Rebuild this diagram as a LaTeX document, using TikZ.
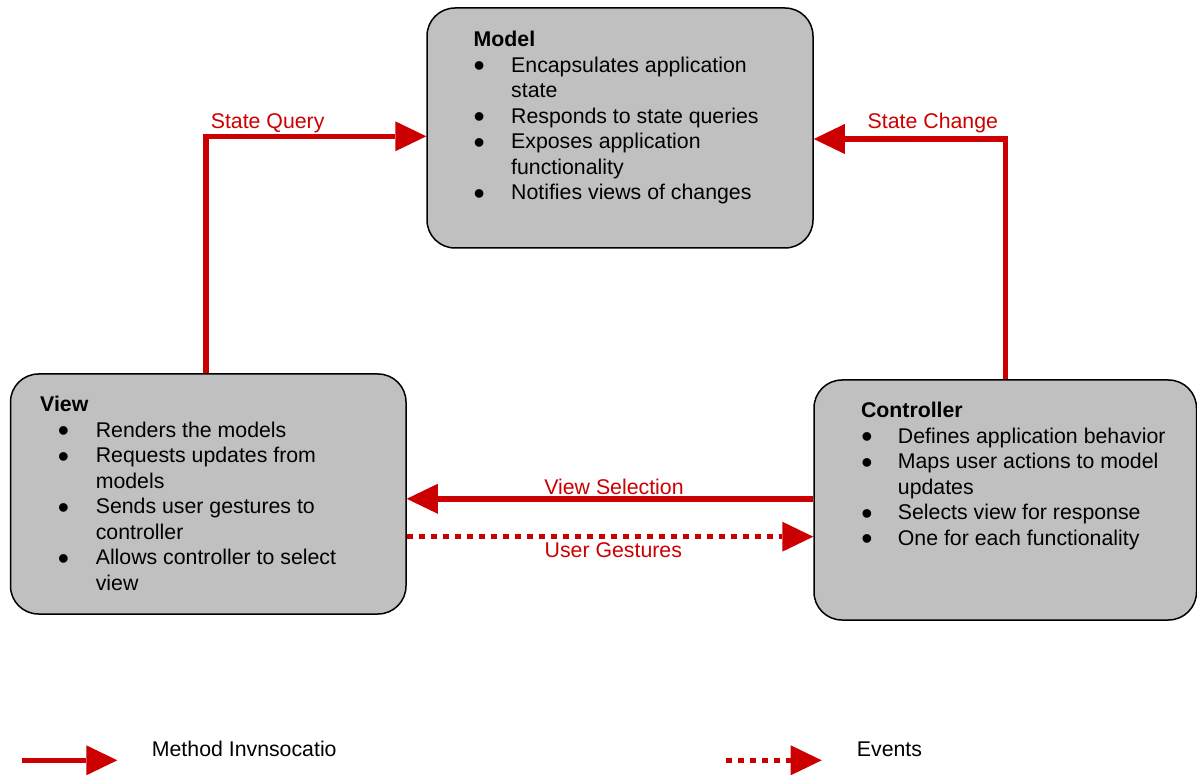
\documentclass[tikz,border=0pt]{standalone}
\usepackage{fontspec}
\setmainfont{Liberation Sans}
\usepackage{tikz}
\usetikzlibrary{
  arrows.meta,
  positioning
}
\definecolor{CallRed}{RGB}{204, 0, 0}
\definecolor{BoxGray}{RGB}{192, 192, 192}
\newcommand{\mvcbullet}{\smash{\raisebox{-4.2pt}{\scalebox{1.5}{\textbullet}}}}
\tikzset{
    mvcbox/.style={rectangle, draw=black, line width=1.5pt, fill=BoxGray, rounded corners=28pt, inner sep=0pt, minimum height=240pt},
    boxtext/.style={anchor=north west, inner sep=0pt, font=\fontsize{21.3}{25.5}\selectfont},
    call/.style={draw=CallRed, line width=5.5pt, -{Triangle[length=31pt, width=30pt, line width=0pt]}},
    event/.style={call, dash pattern=on 6pt off 6pt},
    linklabel/.style={text=CallRed, inner sep=0pt, font=\fontsize{21.3}{25.5}\selectfont},
}

\begin{document}
\begin{tikzpicture}[x=1pt, y=-1pt]
    \useasboundingbox (0,0) rectangle (1197,775);

    \node[mvcbox, minimum width=386pt] (model) at (620,128) {};
    \node[mvcbox, minimum width=395.5pt] (view) at (208.25,494) {};
    \node[mvcbox, minimum width=382.5pt] (ctrl) at (1005.25,500) {};

    \node[boxtext] (modeltxt) at (473.5,28.85) {%
        \begin{tabular}[t]{@{}p{37.5pt}@{}l@{}}
            \multicolumn{2}{@{}l@{}}{\bfseries Model}\\
            \mvcbullet & Encapsulates application\\
                       & state\\
            \mvcbullet & Responds to state queries\\
            \mvcbullet & Exposes application\\
                       & functionality\\
            \mvcbullet & Notifies views of changes
        \end{tabular}};
    \node[boxtext] (viewtxt) at (40,393.85) {%
        \begin{tabular}[t]{@{\hspace{17.7pt}}p{37.9pt}@{}l@{}}
            \multicolumn{2}{@{}l@{}}{\bfseries View}\\
            \mvcbullet & Renders the models\\
            \mvcbullet & Requests updates from\\
                       & models\\
            \mvcbullet & Sends user gestures to\\
                       & controller\\
            \mvcbullet & Allows controller to select\\
                       & view
        \end{tabular}};
    \node[boxtext] (ctrltxt) at (860.8,399.85) {%
        \begin{tabular}[t]{@{\hspace{0.3pt}}p{36.6pt}@{}l@{}}
            \multicolumn{2}{@{}l@{}}{\bfseries Controller}\\
            \mvcbullet & Defines application behavior\\
            \mvcbullet & Maps user actions to model\\
                       & updates\\
            \mvcbullet & Selects view for response\\
            \mvcbullet & One for each functionality
        \end{tabular}};

    % method calls and events
    \draw[call] ([xshift=-2.5pt]view.north) |- ([yshift=-8.3pt]model.west)
        node[linklabel, pos=0.5, anchor=base west, xshift=2.3pt, yshift=8pt] {State Query};
    \draw[call] (ctrl.north) |- ([yshift=-11pt]model.east)
        node[linklabel, pos=0.5, anchor=base east, xshift=-4.5pt, yshift=10.7pt] {State Change};
    \draw[call] ([yshift=1.2pt]ctrl.west) -- ([yshift=1.2pt]ctrl.west -| view.east)
        node[linklabel, midway, anchor=base, xshift=4pt, yshift=4.8pt] {View Selection};
    \draw[event] ([yshift=-42.7pt]view.east) -- ([yshift=-42.7pt]view.east -| ctrl.west)
        node[linklabel, midway, anchor=base, xshift=3.3pt, yshift=-20.3pt] {User Gestures};

    % legend
    \coordinate (callfrom) at (21.7,760.3);
    \coordinate (callto) at (117.3,760.3);
    \coordinate (eventfrom) at (726,760.3);
    \coordinate (eventto) at (821.7,760.3);
    \draw[call] (callfrom) -- (callto);
    \draw[event] (eventfrom) -- (eventto);
    \node[linklabel, text=black, anchor=base west] (calltxt) at (151.7,756.7) {Method Invnsocatio};
    \node[linklabel, text=black, anchor=base west] (eventtxt) at (856.7,756.7) {Events};
\end{tikzpicture}
\end{document}
